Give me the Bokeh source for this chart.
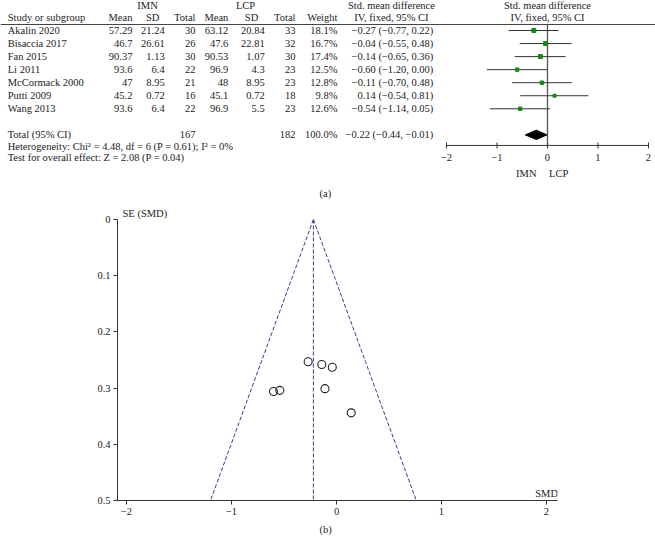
from bokeh.plotting import figure
from bokeh.models import Range1d, FixedTicker, Title
from bokeh.core.properties import value
from bokeh.embed import file_html
from bokeh.resources import INLINE

# ---------------- data ----------------
studies = ["Akalin 2020", "Bisaccia 2017", "Fan 2015", "Li 2011",
           "McCormack 2000", "Putti 2009", "Wang 2013"]
imn_mean = [57.29, 46.7, 90.37, 93.6, 47, 45.2, 93.6]
imn_sd = [21.24, 26.61, 1.13, 6.4, 8.95, 0.72, 6.4]
imn_total = [30, 26, 30, 22, 21, 16, 22]
lcp_mean = [63.12, 47.6, 90.53, 96.9, 48, 45.1, 96.9]
lcp_sd = [20.84, 22.81, 1.07, 4.3, 8.95, 0.72, 5.5]
lcp_total = [33, 32, 30, 23, 23, 18, 23]
weight = [18.1, 16.7, 17.4, 12.5, 12.8, 9.8, 12.6]
smd = [-0.27, -0.04, -0.14, -0.60, -0.11, 0.14, -0.54]
ci_low = [-0.77, -0.55, -0.65, -1.20, -0.70, -0.54, -1.14]
ci_high = [0.22, 0.48, 0.36, 0.00, 0.48, 0.81, 0.05]
se = [0.253, 0.263, 0.258, 0.306, 0.301, 0.344, 0.304]

total_imn = 167
total_lcp = 182
total_weight = "100.0%"
pooled = -0.22
pooled_low = -0.44
pooled_high = -0.01
heterogeneity = "Heterogeneity: Chi\u00b2 = 4.48, df = 6 (P = 0.61); I\u00b2 = 0%"
overall = "Test for overall effect: Z = 2.08 (P = 0.04)"

forest_ticks = [-2, -1, 0, 1, 2]
funnel_xticks = [-2, -1, 0, 1, 2]
funnel_yticks = [0, 0.1, 0.2, 0.3, 0.4, 0.5]
funnel_left_x = [-0.22, -1.20]
funnel_right_x = [-0.22, 0.76]
funnel_se = [0, 0.5]

FONT = "Liberation Serif"
FS = "10.5px"
TXT = "#222222"
AX = "#333333"


def minus(v):
    return ("%g" % v).replace("-", "\u2212")


def minus_f(v):
    return ("%.2f" % v).replace("-", "\u2212")


def fmt_ci(e, lo, hi):
    return "%s (%s, %s)" % (minus_f(e), minus_f(lo), minus_f(hi))


# ---------------- top: forest plot (table + plot in one frame) ----------------
X0, X1 = -10.832, 2.139
top = figure(width=655, height=200, x_range=Range1d(X0, X1),
             y_range=Range1d(13.03, -2.30), output_backend="svg",
             toolbar_location=None, x_axis_location=None, y_axis_location=None,
             min_border_left=0, min_border_right=0, min_border_top=0,
             min_border_bottom=0)
top.outline_line_color = None
top.grid.visible = False

rows = list(range(len(studies)))
total_row = 8
hdr1 = -1.95
hdr2 = -1.0
hline = -0.46
axis_row = 8.81
tick_half = 0.23
tick_lab_row = 9.73
side_row = 10.96


def col(x, texts, ys, align):
    top.text(x=[x] * len(texts), y=ys, text=texts, text_align=align,
             text_baseline="middle", text_font=value(FONT),
             text_font_size=value(FS), text_color=TXT)


# header rule and null line
top.segment(x0=[X0], x1=[X1], y0=[hline], y1=[hline], line_color="#444444",
            line_width=1)
top.segment(x0=[0], x1=[0], y0=[hline], y1=[axis_row], line_color="#555555",
            line_width=1.3)

# header texts
col(-7.92, ["IMN"], [hdr1], "center")
col(-5.98, ["LCP"], [hdr1], "center")
col(-3.09, ["Std. mean difference"], [hdr1], "center")
col(0.0, ["Std. mean difference"], [hdr1], "center")
col(-10.69, ["Study or subgroup"], [hdr2], "left")
col(-8.22, ["Mean"], [hdr2], "right")
col(-7.82, ["SD"], [hdr2], "center")
col(-6.97, ["Total"], [hdr2], "right")
col(-6.32, ["Mean"], [hdr2], "right")
col(-5.86, ["SD"], [hdr2], "center")
col(-4.99, ["Total"], [hdr2], "right")
col(-4.16, ["Weight"], [hdr2], "right")
col(-3.09, ["IV, fixed, 95% CI"], [hdr2], "center")
col(0.0, ["IV, fixed, 95% CI"], [hdr2], "center")

# body
col(-10.69, studies + ["Total (95% CI)"], rows + [total_row], "left")
col(-8.22, ["%g" % v for v in imn_mean], rows, "right")
col(-7.58, ["%g" % v for v in imn_sd], rows, "right")
col(-6.97, [str(v) for v in imn_total] + [str(total_imn)], rows + [total_row], "right")
col(-6.32, ["%g" % v for v in lcp_mean], rows, "right")
col(-5.60, ["%g" % v for v in lcp_sd], rows, "right")
col(-4.99, [str(v) for v in lcp_total] + [str(total_lcp)], rows + [total_row], "right")
col(-4.16, ["%.1f%%" % w for w in weight] + [total_weight], rows + [total_row], "right")
col(-2.26, [fmt_ci(e, lo, hi) for e, lo, hi in zip(smd, ci_low, ci_high)]
    + [fmt_ci(pooled, pooled_low, pooled_high)], rows + [total_row], "right")
col(-10.69, [heterogeneity, overall], [8.9, 9.72], "left")
col(-0.42, ["IMN"], [side_row], "center")
col(0.22, ["LCP"], [side_row], "center")
col(-4.40, ["(a)"], [12.49], "center")

# CI lines and squares
top.segment(x0=ci_low, x1=ci_high, y0=rows, y1=rows, line_color="#333333",
            line_width=1)
top.scatter(x=smd, y=rows, marker="square",
            size=[w ** 0.5 * 0.95 for w in weight],
            fill_color="#138a13", line_color="#138a13")
# pooled diamond
dh = 0.36
top.patch(x=[pooled_low, pooled, pooled_high, pooled],
          y=[total_row, total_row - dh, total_row, total_row + dh],
          fill_color="black", line_color="black")

# forest x axis (effect scale)
top.segment(x0=[forest_ticks[0]], x1=[forest_ticks[-1]], y0=[axis_row],
            y1=[axis_row], line_color=AX, line_width=1)
top.segment(x0=forest_ticks, x1=forest_ticks,
            y0=[axis_row - tick_half] * len(forest_ticks),
            y1=[axis_row + tick_half] * len(forest_ticks),
            line_color=AX, line_width=1)
top.text(x=forest_ticks, y=[tick_lab_row] * len(forest_ticks),
         text=[minus(t) for t in forest_ticks],
         text_align="center", text_baseline="middle", text_font=value(FONT),
         text_font_size=value(FS), text_color=TXT)

# ---------------- bottom: funnel plot ----------------
bot = figure(width=655, height=340, x_range=Range1d(-2.086, 2.105),
             y_range=Range1d(0.5, 0), output_backend="svg",
             toolbar_location=None, min_border_left=117, min_border_right=98,
             min_border_top=19, min_border_bottom=40)
bot.outline_line_color = None
bot.grid.visible = False

dash_col = "#3b3b8f"
bot.line(x=funnel_left_x, y=funnel_se, line_color=dash_col, line_dash="4 2",
         line_width=1)
bot.line(x=funnel_right_x, y=funnel_se, line_color=dash_col, line_dash="4 2",
         line_width=1)
bot.line(x=[pooled, pooled], y=funnel_se, line_color=dash_col, line_dash="4 2",
         line_width=1)
bot.scatter(x=smd, y=se, marker="circle", size=8, fill_color=None,
            line_color="#222222", line_width=1.1)

for a in (bot.xaxis[0], bot.yaxis[0]):
    a.major_tick_in = 0
    a.major_tick_out = 4
    a.minor_tick_line_color = None
    a.axis_line_color = AX
    a.major_tick_line_color = AX
    a.major_label_text_font = FONT
    a.major_label_text_font_size = FS
    a.major_label_text_color = TXT
    a.major_label_standoff = 3

bot.xaxis[0].ticker = FixedTicker(ticks=funnel_xticks)
bot.xaxis[0].major_label_overrides = {t: minus(t) for t in funnel_xticks}
bot.yaxis[0].ticker = FixedTicker(ticks=funnel_yticks)
bot.yaxis[0].major_label_overrides = {t: "%g" % t for t in funnel_yticks}

bot.text(x=[2.11], y=[0.4875], text=["SMD"], text_align="right",
         text_baseline="middle", text_font=value(FONT),
         text_font_size=value(FS), text_color=TXT)

bot.add_layout(Title(text="SE (SMD)", align="left", offset=5, standoff=2,
                     text_font=FONT, text_font_size=FS, text_color=TXT,
                     text_font_style="normal"), "above")
bot.add_layout(Title(text="(b)", align="left", offset=202, standoff=9,
                     text_font=FONT, text_font_size=FS, text_color=TXT,
                     text_font_style="normal"), "below")

open("out.html", "w").write(file_html([top, bot], INLINE))
